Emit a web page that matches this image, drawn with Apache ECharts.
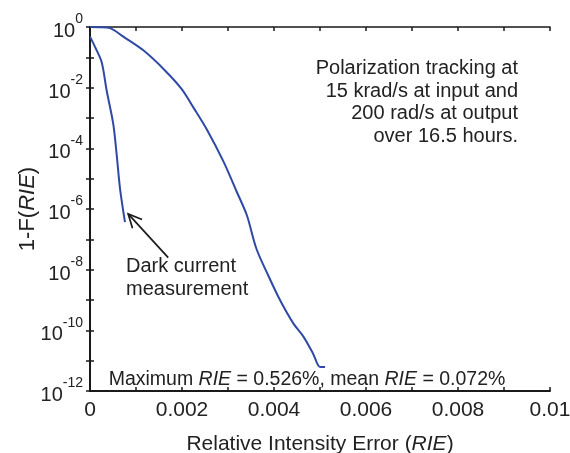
<!DOCTYPE html>
<html>
<head>
<meta charset="utf-8">
<script src="https://cdn.jsdelivr.net/npm/echarts@6/dist/echarts.min.js"></script>
<style>html,body{margin:0;padding:0;background:#fff;}#c{width:570px;height:453px;}</style>
</head>
<body>
<div id="c"></div>
<script>
// ---- data ----
const xTickLabels = ['0', '0.002', '0.004', '0.006', '0.008', '0.01'];
const yLabelExponents = [0, -2, -4, -6, -8, -10, -12];

const rieMain  = [0, 0.0002, 0.000435, 0.000724, 0.00116, 0.00163, 0.00199, 0.00225, 0.00254, 0.0029, 0.00319, 0.00341, 0.00362, 0.00388, 0.00413, 0.00442, 0.00464, 0.00485, 0.005, 0.00511];
const probMain = [1, 0.99, 0.92, 0.48, 0.17, 0.037, 0.0091, 0.0022, 4.2e-4, 3.7e-5, 3.7e-6, 6.2e-7, 4.8e-8, 6.2e-9, 1e-9, 1.7e-10, 6.2e-11, 1.7e-11, 6.2e-12, 6.2e-12];

const rieDark  = [0, 0.000109, 0.000254, 0.000363, 0.000507, 0.00058, 0.000652, 0.00076];
const probDark = [0.48, 0.22, 0.069, 0.0079, 6.2e-4, 6.2e-5, 4.8e-6, 3.7e-7];

const arrowFrom = [0.0017, 2.5e-8];
const arrowTo   = [0.00083, 6.9e-7];

const noteLines = ['Polarization tracking at', '15 krad/s at input and', '200 rad/s at output', 'over 16.5 hours.'];
const darkLabel = ['Dark current', 'measurement'];

// ---- chart ----
const FONT = 'Liberation Sans, Arial, sans-serif';
const lineColor = '#2f4aa5';
const zip = (a, b) => a.map((v, i) => [v, b[i]]);

const chart = echarts.init(document.getElementById('c'), null, {renderer: 'canvas'});

const xLabelFmt = v => {
  const k = Math.round(v * 1000);
  if (k % 2 !== 0) return '';
  return xTickLabels[k / 2] || '';
};
const yLabelFmt = v => {
  const e = Math.round(Math.log10(v));
  if (yLabelExponents.indexOf(e) < 0) return '';
  return '{b|10}{e|' + e + '}';
};

const axisLine = w => ({show: true, lineStyle: {color: '#1a1a1a', width: w}});
const tickIn = {show: true, inside: true, length: 4, lineStyle: {color: '#1a1a1a', width: 1.5}};
const nameRich = {n: {fontFamily: FONT, fontSize: 21, color: '#222'}, i: {fontFamily: FONT, fontSize: 21, fontStyle: 'italic', color: '#222'}};
const yNameRich = {n: {fontFamily: FONT, fontSize: 22, color: '#222'}, i: {fontFamily: FONT, fontSize: 22, fontStyle: 'italic', color: '#222'}};

const textGraphics = [
  {id: 'note', type: 'text', x: 518, y: 57, style: {text: noteLines.join('\n'), font: '20px ' + FONT, fill: '#222', align: 'right', lineHeight: 22.7}},
  {id: 'dark', type: 'text', x: 126, y: 255, style: {text: darkLabel.join('\n'), font: '20px ' + FONT, fill: '#222', align: 'left', lineHeight: 23}},
  {id: 'stats', type: 'text', x: 307, y: 370, style: {
    text: '{n|Maximum }{i|RIE}{n| = 0.526%, mean }{i|RIE}{n| = 0.072%}', align: 'center',
    rich: {n: {font: '19.5px ' + FONT, fill: '#222'}, i: {font: 'italic 19.5px ' + FONT, fill: '#222'}}}}
];

const option = {
  animation: false,
  backgroundColor: '#fff',
  grid: {left: 90, right: 20, top: 27, bottom: 62, containLabel: false, outerBoundsMode: 'none'},
  xAxis: [{
    type: 'value', min: 0, max: 0.01, interval: 0.001, position: 'bottom',
    axisLine: axisLine(2), axisTick: tickIn, splitLine: {show: false},
    axisLabel: {formatter: xLabelFmt, fontFamily: FONT, fontSize: 21, color: '#222', margin: 9, showMinLabel: true, showMaxLabel: true, hideOverlap: false},
    name: '{n|Relative Intensity Error (}{i|RIE}{n|)}', nameLocation: 'middle', nameGap: 43, nameMoveOverlap: false,
    nameTextStyle: {rich: nameRich}
  }, {
    type: 'value', min: 0, max: 0.01, interval: 0.001, position: 'top',
    axisLine: axisLine(1.5), axisTick: tickIn, axisLabel: {show: false}, splitLine: {show: false}
  }],
  yAxis: [{
    type: 'log', logBase: 10, min: 1e-12, max: 1, interval: 1, position: 'left',
    axisLine: axisLine(2), axisTick: tickIn, splitLine: {show: false}, minorTick: {show: false},
    axisLabel: {formatter: yLabelFmt, margin: 7, showMinLabel: true, showMaxLabel: true, hideOverlap: false,
      rich: {b: {fontFamily: FONT, fontSize: 20, color: '#222', verticalAlign: 'bottom'},
             e: {fontFamily: FONT, fontSize: 14, color: '#222', verticalAlign: 'bottom', padding: [0, 0, 15, 0]}}},
    name: '{n|1-F(}{i|RIE}{n|)}', nameLocation: 'middle', nameGap: 51, nameRotate: 90, nameMoveOverlap: false,
    nameTextStyle: {rich: yNameRich}
  }, {
    type: 'log', logBase: 10, min: 1e-12, max: 1, interval: 1, position: 'right',
    axisLine: axisLine(1.5), axisTick: tickIn, axisLabel: {show: false}, splitLine: {show: false}
  }],
  series: [{
    type: 'line', data: zip(rieMain, probMain), xAxisIndex: 0, yAxisIndex: 0,
    showSymbol: false, smooth: 0.3, lineStyle: {color: lineColor, width: 2}, silent: true
  }, {
    type: 'line', data: zip(rieDark, probDark), xAxisIndex: 0, yAxisIndex: 0,
    showSymbol: false, smooth: 0.3, lineStyle: {color: lineColor, width: 2}, silent: true
  }],
  graphic: textGraphics
};
chart.setOption(option);

// annotation arrow, positioned through the axes' scales
const p0 = chart.convertToPixel({xAxisIndex: 0, yAxisIndex: 0}, arrowFrom);
const p1 = chart.convertToPixel({xAxisIndex: 0, yAxisIndex: 0}, arrowTo);
const ang = Math.atan2(p0[1] - p1[1], p0[0] - p1[0]);
const L = 15, spread = 0.45;
const h1 = [p1[0] + L * Math.cos(ang + spread), p1[1] + L * Math.sin(ang + spread)];
const h2 = [p1[0] + L * Math.cos(ang - spread), p1[1] + L * Math.sin(ang - spread)];
chart.setOption({
  graphic: textGraphics.concat([
    {id: 'arrowShaft', type: 'line', shape: {x1: p0[0], y1: p0[1], x2: p1[0], y2: p1[1]}, style: {stroke: '#1a1a1a', lineWidth: 1.7}},
    {id: 'arrowHead', type: 'polyline', shape: {points: [h1, p1, h2]}, style: {stroke: '#1a1a1a', lineWidth: 1.7, fill: null}}
  ])
});
</script>
</body>
</html>
